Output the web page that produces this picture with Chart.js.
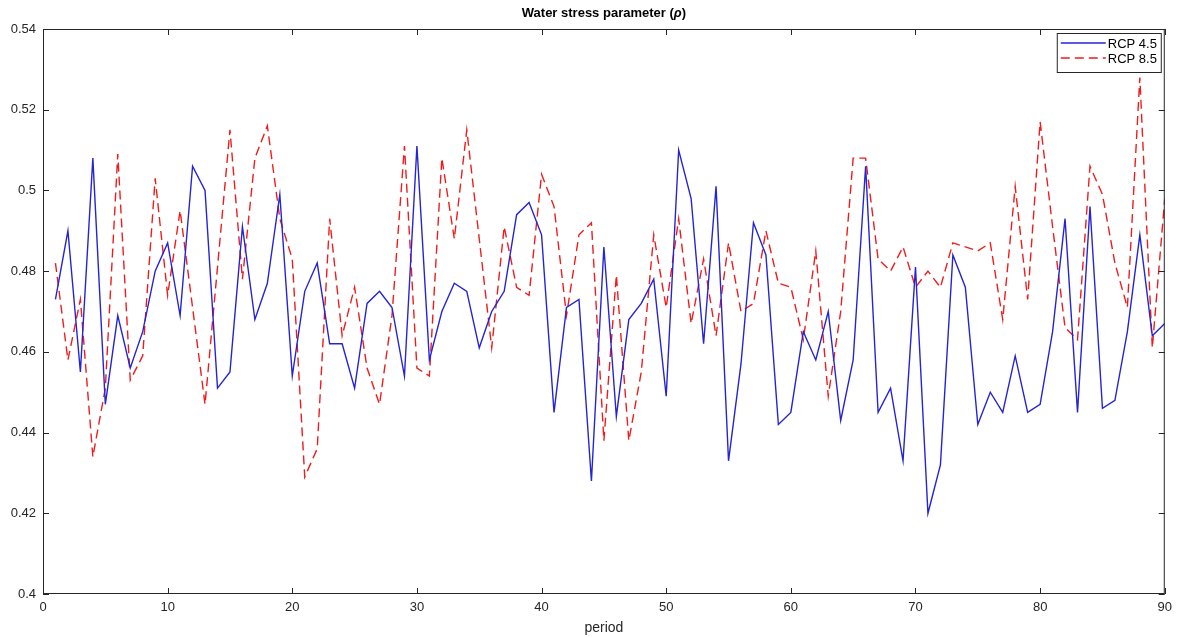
<!DOCTYPE html>
<html>
<head>
<meta charset="utf-8">
<title>Water stress parameter</title>
<script src="https://cdn.jsdelivr.net/npm/chart.js@4/dist/chart.umd.min.js"></script>
<style>
  html, body { margin: 0; background: #fff; }
  #wrap { width: 1178px; height: 638px; }
</style>
</head>
<body>
<div id="wrap"><canvas id="chart"></canvas></div>
<script>
const FONT = "'Liberation Sans', Arial, sans-serif";
const INK = '#262626';

const periods = Array.from({ length: 90 }, (_, i) => i + 1);
const xTicks = [0, 10, 20, 30, 40, 50, 60, 70, 80, 90];
const yTicks = [0.4, 0.42, 0.44, 0.46, 0.48, 0.5, 0.52, 0.54];

const rcp45 = [
  0.473, 0.490, 0.455, 0.508, 0.447, 0.469, 0.456, 0.465, 0.480, 0.487,
  0.469, 0.506, 0.500, 0.451, 0.455, 0.491, 0.468, 0.477, 0.499, 0.454,
  0.475, 0.482, 0.462, 0.462, 0.451, 0.472, 0.475, 0.471, 0.454, 0.511,
  0.458, 0.470, 0.477, 0.475, 0.461, 0.470, 0.475, 0.494, 0.497, 0.489,
  0.445, 0.471, 0.473, 0.428, 0.486, 0.444, 0.468, 0.472, 0.478, 0.449,
  0.510, 0.498, 0.462, 0.501, 0.433, 0.457, 0.492, 0.484, 0.442, 0.445,
  0.465, 0.458, 0.470, 0.443, 0.458, 0.506, 0.445, 0.451, 0.433, 0.481,
  0.420, 0.432, 0.484, 0.476, 0.442, 0.450, 0.445, 0.459, 0.445, 0.447,
  0.465, 0.493, 0.445, 0.496, 0.446, 0.448, 0.465, 0.489, 0.464, 0.467
];

const rcp85 = [
  0.482, 0.458, 0.473, 0.434, 0.451, 0.509, 0.453, 0.459, 0.503, 0.474,
  0.495, 0.471, 0.447, 0.481, 0.515, 0.478, 0.508, 0.516, 0.493, 0.483,
  0.429, 0.436, 0.493, 0.464, 0.476, 0.456, 0.447, 0.469, 0.511, 0.456,
  0.454, 0.508, 0.488, 0.515, 0.488, 0.461, 0.491, 0.476, 0.474, 0.504,
  0.496, 0.469, 0.489, 0.492, 0.438, 0.479, 0.438, 0.455, 0.489, 0.471,
  0.493, 0.467, 0.483, 0.464, 0.487, 0.470, 0.472, 0.490, 0.477, 0.476,
  0.463, 0.485, 0.449, 0.470, 0.508, 0.508, 0.483, 0.480, 0.486, 0.476,
  0.480, 0.476, 0.487, 0.486, 0.485, 0.487, 0.468, 0.501, 0.473, 0.517,
  0.491, 0.466, 0.463, 0.506, 0.499, 0.482, 0.471, 0.528, 0.461, 0.498
];

const series = [
  { label: 'RCP 4.5', values: rcp45, color: '#2424d6', dash: [] },
  { label: 'RCP 8.5', values: rcp85, color: '#ee1c1c', dash: [9, 5] }
];

// box around the axes with inward ticks on all four sides
const framePlugin = {
  id: 'frame',
  afterDatasetsDraw(chart) {
    const { ctx, chartArea: a, scales: { x, y } } = chart;
    ctx.save();
    ctx.strokeStyle = INK;
    ctx.lineWidth = 1;
    ctx.setLineDash([]);
    ctx.strokeRect(a.left + 0.5, a.top + 0.5, a.width - 1, a.height - 1);
    ctx.beginPath();
    xTicks.forEach(v => {
      const px = Math.round(x.getPixelForValue(v)) + 0.5;
      ctx.moveTo(px, a.bottom); ctx.lineTo(px, a.bottom - 6);
      ctx.moveTo(px, a.top); ctx.lineTo(px, a.top + 6);
    });
    yTicks.forEach(v => {
      const py = Math.round(y.getPixelForValue(v)) + 0.5;
      ctx.moveTo(a.left, py); ctx.lineTo(a.left + 6, py);
      ctx.moveTo(a.right, py); ctx.lineTo(a.right - 6, py);
    });
    ctx.stroke();
    ctx.restore();
  },
  afterDraw(chart) {
    const { ctx, chartArea: a } = chart;
    ctx.save();

    // title with italic rho
    const parts = [['Water stress parameter (', 'bold'], ['\u03c1', 'italic bold'], [')', 'bold']];
    const widths = parts.map(([t, s]) => { ctx.font = `${s} 13px ${FONT}`; return ctx.measureText(t).width; });
    let tx = (a.left + a.right) / 2 - widths.reduce((s, w) => s + w, 0) / 2;
    ctx.fillStyle = '#000';
    ctx.textBaseline = 'middle';
    parts.forEach(([t, s], i) => {
      ctx.font = `${s} 13px ${FONT}`;
      ctx.fillText(t, tx, 13);
      tx += widths[i];
    });

    // legend box
    const bx = a.right - 108, by = a.top + 4, bw = 104, bh = 39;
    ctx.fillStyle = '#fff';
    ctx.fillRect(bx, by, bw, bh);
    ctx.strokeStyle = INK;
    ctx.lineWidth = 1;
    ctx.strokeRect(bx + 0.5, by + 0.5, bw, bh);
    ctx.font = `13px ${FONT}`;
    series.forEach((s, i) => {
      const ly = by + 10 + i * 15;
      ctx.strokeStyle = s.color;
      ctx.lineWidth = 1.3;
      ctx.setLineDash(s.dash);
      ctx.beginPath();
      ctx.moveTo(bx + 4, ly);
      ctx.lineTo(bx + 49, ly);
      ctx.stroke();
      ctx.fillStyle = '#000';
      ctx.fillText(s.label, bx + 51, ly + 1);
    });
    ctx.restore();
  }
};

new Chart(document.getElementById('chart'), {
  type: 'line',
  data: {
    datasets: series.map(s => ({
      label: s.label,
      data: s.values.map((v, i) => ({ x: periods[i], y: v })),
      borderColor: s.color,
      borderWidth: 1.4,
      borderDash: s.dash,
      pointRadius: 0,
      tension: 0,
      fill: false
    }))
  },
  options: {
    responsive: true,
    maintainAspectRatio: false,
    animation: false,
    layout: { padding: { top: 29, right: 12, left: 0, bottom: 0 } },
    plugins: { legend: { display: false }, tooltip: { enabled: false }, title: { display: false } },
    scales: {
      x: {
        type: 'linear',
        min: 0,
        max: 90,
        afterFit: s => { s.height = 44; },
        afterBuildTicks: s => { s.ticks = xTicks.map(v => ({ value: v })); },
        grid: { display: false, drawTicks: false },
        border: { display: false },
        ticks: { color: INK, font: { family: FONT, size: 13 }, padding: 6, maxRotation: 0 },
        title: { display: true, text: 'period', color: INK, font: { family: FONT, size: 14 }, padding: { top: 0, bottom: 1 } }
      },
      y: {
        min: 0.4,
        max: 0.54,
        afterFit: s => { s.width = 43; },
        afterBuildTicks: s => { s.ticks = yTicks.map(v => ({ value: v })); },
        grid: { display: false, drawTicks: false },
        border: { display: false },
        ticks: { color: INK, font: { family: FONT, size: 13 }, padding: 7, callback: v => String(+v.toFixed(2)) }
      }
    }
  },
  plugins: [framePlugin]
});
</script>
</body>
</html>
